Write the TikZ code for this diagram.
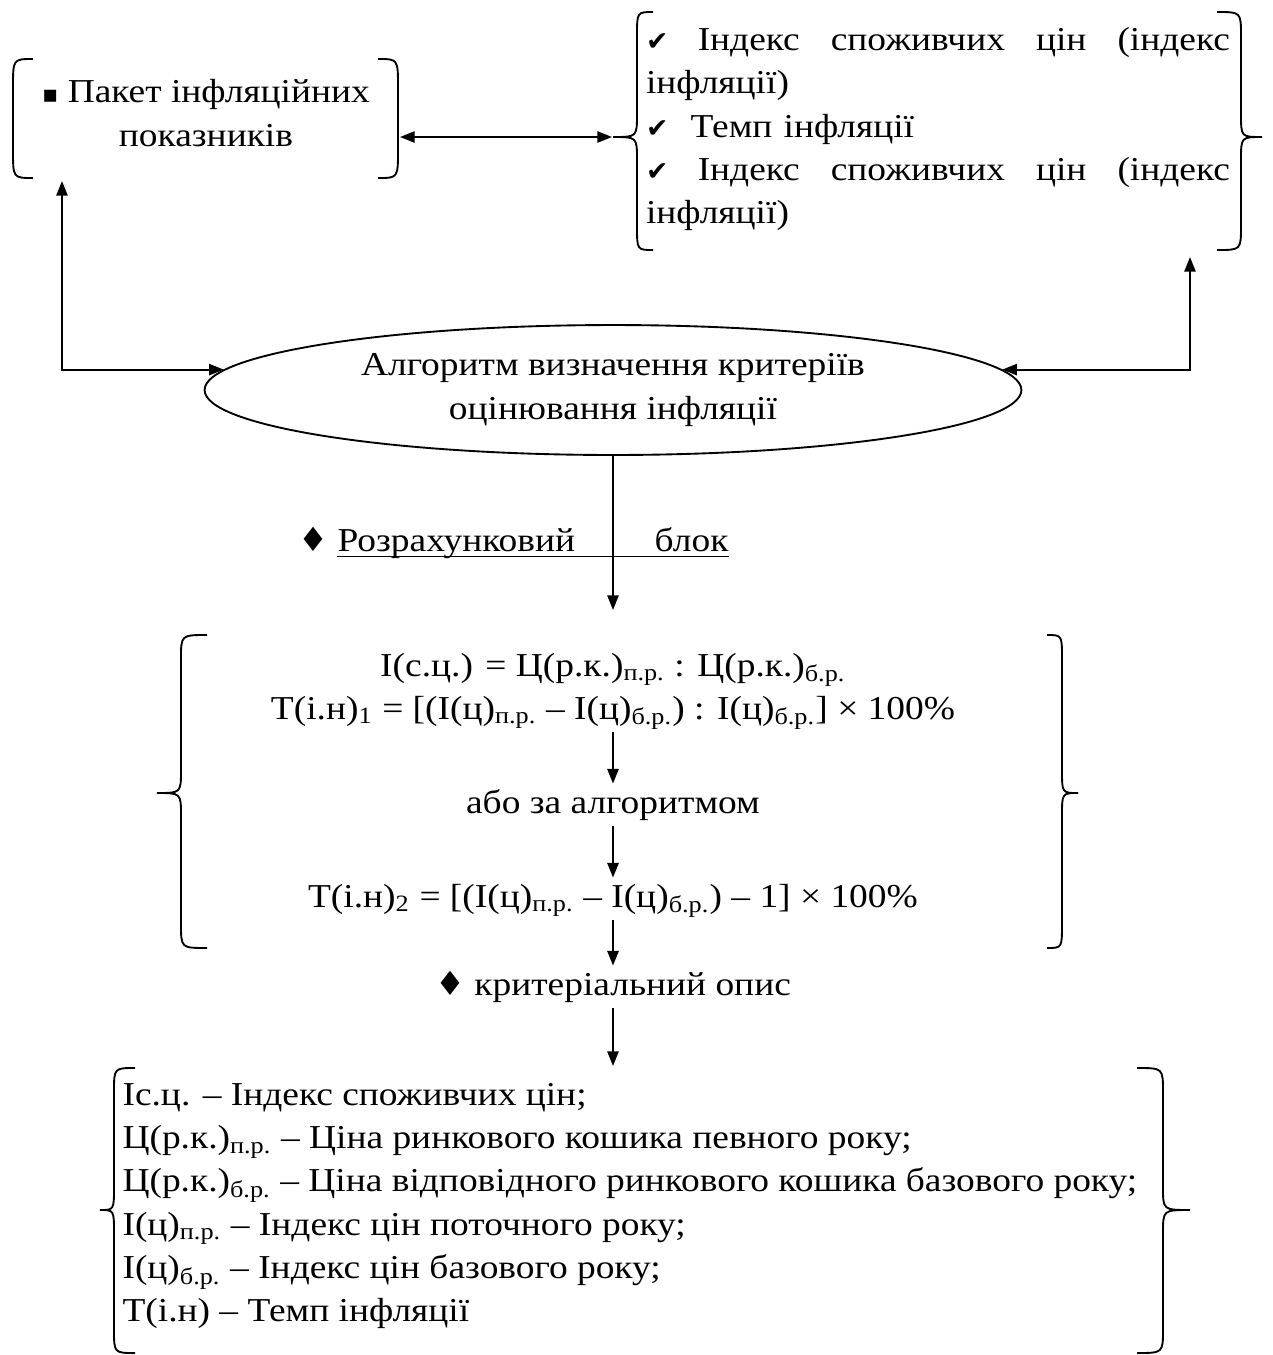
\documentclass[tikz,border=0pt]{standalone}
\usepackage{fontspec}
\setmainfont{Liberation Serif}[FakeStretch=1.12]
\newfontfamily\symfont{DejaVu Sans}
\usetikzlibrary{arrows.meta,shapes.geometric}

% curly brace: end x, spine x, tip x, top y, middle y, bottom y
\newcommand{\curlbr}[6]{%
  \draw[brk] (#1,#4) .. controls (#2,#4) .. (#2,#4+24) -- (#2,#5-23)
    .. controls (#2,#5) .. (#3,#5) .. controls (#2,#5) .. (#2,#5+23)
    -- (#2,#6-24) .. controls (#2,#6) .. (#1,#6);}
% round bracket: end x, spine x, top y, bottom y
\newcommand{\roundbr}[4]{%
  \draw[brk] (#1,#3) .. controls (#2,#3) .. (#2,#3+28) -- (#2,#4-28)
    .. controls (#2,#4) .. (#1,#4);}
\newcommand{\chk}{{\symfont\fontsize{10}{10}\selectfont ✔}}

\tikzset{
  every node/.style={font=\fontsize{12.5}{16.2}\selectfont},
  txt/.style={inner sep=0pt, outer ysep=2pt, text height=9pt, text depth=3pt, anchor=base},
  brk/.style={line width=0.7pt},
  conn/.style={line width=0.75pt,-{Triangle[length=5.5pt,width=4.2pt]}},
  dconn/.style={line width=0.75pt,{Triangle[length=5.5pt,width=4.2pt]}-{Triangle[length=5.5pt,width=4.2pt]}},
}

\begin{document}
\begin{tikzpicture}[x=0.374pt,y=-0.374pt]
\useasboundingbox (0,0) rectangle (1273,1355);

% top left: package of indicators
\roundbr{33}{13}{59}{178}
\roundbr{378}{398}{59}{178}
\node[align=center,inner sep=0pt] (pkt) at (206,113) {{\symfont\small ▪} Пакет інфляційних\\показників};
\coordinate (pkt-r) at (400,137);
\coordinate (pkt-b) at (62,181);

% top right: list of indices
\curlbr{653}{637}{613}{12}{137}{250}
\curlbr{1217}{1241}{1262}{12}{137}{250}
\node[align=left,text width=218.4pt,inner sep=0pt] (ind) at (938,129) {%
  \leavevmode\hbox to 218.4pt{\chk\hskip 4pt plus 0.6fil Індекс\hfil споживчих\hfil цін\hfil (індекс}\\
  інфляції)\\
  \chk\ \ Темп інфляції\\
  \leavevmode\hbox to 218.4pt{\chk\hskip 4pt plus 0.6fil Індекс\hfil споживчих\hfil цін\hfil (індекс}\\
  інфляції)};
\coordinate (ind-l) at (612,137);
\coordinate (ind-b) at (1190,257);

% algorithm
\node[ellipse,draw,line width=0.7pt,minimum width=305.5pt,minimum height=48.6pt,inner sep=0pt,align=center] (alg) at (613,390)
  {Алгоритм визначення критеріїв\\оцінювання інфляції};

\draw[dconn] (pkt-r) -- (ind-l);
\draw[dconn] (alg.177.4) -| (pkt-b);
\draw[dconn] (alg.3) -| (ind-b);

% calculation block
\coordinate (blk-top) at (613,610);
\draw[conn] (alg.south) -- (blk-top);
\node[anchor=base east,inner sep=0pt] (dia1) at (329,551) {\symfont ♦};
\node[anchor=base west,inner sep=0pt] (calc) at (337,551) {\hbox to 146.2pt{Розрахунковий\hfill блок}};
\draw[line width=0.6pt] ([yshift=-2pt]calc.base west) -- ([yshift=-2pt]calc.base east);

\curlbr{207}{181}{157}{635}{793}{948}
\curlbr{1047}{1062}{1078}{635}{793}{948}
\node[txt] (f1) at (613,676) {I(с.ц.) = Ц(р.к.)\textsubscript{п.р.} : Ц(р.к.)\textsubscript{б.р.}};
\node[txt] (f2) at (613,719) {Т(і.н)\textsubscript{1} = [(I(ц)\textsubscript{п.р.} – I(ц)\textsubscript{б.р.}) : I(ц)\textsubscript{б.р.}] × 100\%};
\node[txt] (alt) at (613,813) {або за алгоритмом};
\node[txt] (f3) at (613,907) {Т(і.н)\textsubscript{2} = [(I(ц)\textsubscript{п.р.} – I(ц)\textsubscript{б.р.}) – 1] × 100\%};
\draw[conn] (f2.south) -- (alt.north);
\draw[conn] (alt.south) -- (f3.north);

% criteria description
\node[txt] (crit) at (613,995) {{\symfont ♦} критеріальний опис};
\draw[conn] (f3.south) -- (crit.north);

\curlbr{135}{114}{100}{1068}{1210}{1353}
\curlbr{1137}{1163}{1190}{1068}{1210}{1353}
\node[anchor=west,align=left,inner sep=0pt] (desc) at (122,1206) {%
  Іс.ц. – Індекс споживчих цін;\\
  Ц(р.к.)\textsubscript{п.р.} – Ціна ринкового кошика певного року;\\
  Ц(р.к.)\textsubscript{б.р.} – Ціна відповідного ринкового кошика базового року;\\
  I(ц)\textsubscript{п.р.} – Індекс цін поточного року;\\
  I(ц)\textsubscript{б.р.} – Індекс цін базового року;\\
  Т(і.н) – Темп інфляції};
\coordinate (desc-top) at (613,1066);
\draw[conn] (crit.south) -- (desc-top);
\end{tikzpicture}
\end{document}
